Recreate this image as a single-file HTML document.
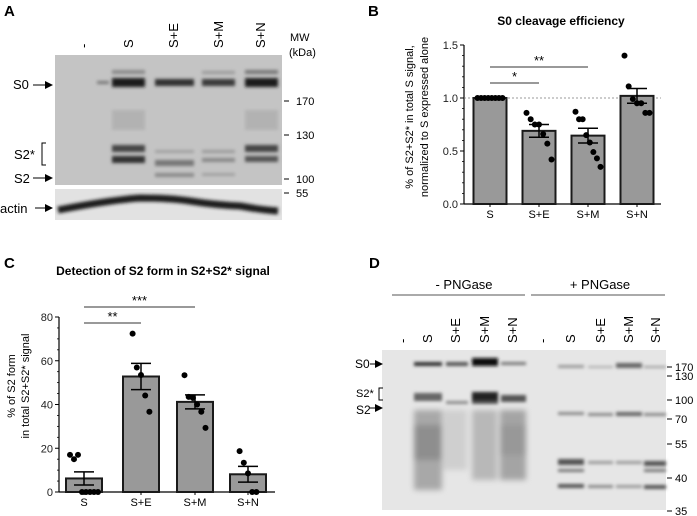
<!DOCTYPE html>
<html><head><meta charset="utf-8"><style>
body{margin:0;background:#fff;}
svg{display:block;font-family:"Liberation Sans",Arial,sans-serif;}
.cal{font-family:"Liberation Sans",Arial,sans-serif;}
</style></head><body>
<svg id="fig" width="697" height="516" viewBox="0 0 697 516">
<defs>
<marker id="ar" markerWidth="8" markerHeight="8" refX="7" refY="4" orient="auto"><path d="M0,0 L8,4 L0,8 z" fill="#000"/></marker>
<filter id="bl" x="-20%" y="-50%" width="140%" height="200%"><feGaussianBlur stdDeviation="1.5"/></filter>
<filter id="bl3" x="-20%" y="-50%" width="140%" height="200%"><feGaussianBlur stdDeviation="3"/></filter>
</defs>

<!-- Panel A -->
<g>
<text x="4" y="16" font-size="15" font-weight="bold">A</text>
<rect x="55" y="55" width="227" height="130" fill="#c4c4c4"/>
<g filter="url(#bl)">
<rect x="112" y="78" width="33" height="9" fill="#1a1a1a"/><rect x="112" y="70" width="33" height="4" fill="#8a8a8a"/>
<rect x="155" y="79" width="39" height="7" fill="#333"/>
<rect x="202" y="79" width="33" height="7" fill="#3a3a3a"/><rect x="202" y="71" width="33" height="3" fill="#9a9a9a"/>
<rect x="245" y="78" width="33" height="9" fill="#1a1a1a"/><rect x="245" y="70" width="33" height="4" fill="#777"/>
<rect x="97" y="81" width="12" height="3" fill="#777"/>
<rect x="112" y="145" width="33" height="7" fill="#444"/><rect x="112" y="156" width="33" height="7" fill="#333"/>
<rect x="245" y="145" width="33" height="7" fill="#444"/><rect x="245" y="156" width="33" height="6" fill="#555"/>
<rect x="155" y="160" width="39" height="6" fill="#777"/><rect x="155" y="173" width="39" height="4" fill="#8a8a8a"/><rect x="155" y="150" width="39" height="3" fill="#a0a0a0"/>
<rect x="202" y="150" width="33" height="3" fill="#999"/><rect x="202" y="158" width="33" height="4" fill="#888"/><rect x="202" y="173" width="33" height="3" fill="#a0a0a0"/>
<rect x="112" y="110" width="33" height="20" fill="#b2b2b2"/><rect x="245" y="110" width="33" height="20" fill="#b2b2b2"/>
</g>
<rect x="55" y="189" width="227" height="31" fill="#e2e2e2"/>
<path d="M58,210 Q110,200 140,198 Q170,198 190,201 Q215,205 240,206 Q262,210 278,211" stroke="#1a1a1a" stroke-width="7" fill="none" filter="url(#bl)"/>
<g font-size="13" class="cal">
<text x="13" y="89">S0</text>
<line x1="33" y1="85" x2="52" y2="85" stroke="#000" marker-end="url(#ar)"/>
<text x="14" y="159">S2*</text>
<path d="M46,143 L42,143 L42,165 L46,165" fill="none" stroke="#000"/>
<text x="14" y="183">S2</text>
<line x1="33" y1="178" x2="52" y2="178" stroke="#000" marker-end="url(#ar)"/>
<text x="0" y="213">actin</text>
<line x1="35" y1="208" x2="52" y2="208" stroke="#000" marker-end="url(#ar)"/>
<text x="290" y="41" font-size="11">MW</text>
<text x="289" y="56" font-size="11">(kDa)</text>
<g font-size="11">
<line x1="284" y1="101" x2="289" y2="101" stroke="#000"/><text x="296" y="105">170</text>
<line x1="284" y1="135" x2="289" y2="135" stroke="#000"/><text x="296" y="139">130</text>
<line x1="284" y1="179" x2="289" y2="179" stroke="#000"/><text x="296" y="183">100</text>
<line x1="284" y1="193" x2="289" y2="193" stroke="#000"/><text x="296" y="197">55</text>
</g>
<text transform="translate(88,48) rotate(-90)">-</text>
<text transform="translate(133,48) rotate(-90)">S</text>
<text transform="translate(178,48) rotate(-90)">S+E</text>
<text transform="translate(223,48) rotate(-90)">S+M</text>
<text transform="translate(265,48) rotate(-90)">S+N</text>
</g>
</g>

<!-- Panel D -->
<g>
<text x="369" y="268" font-size="15" font-weight="bold">D</text>
<rect x="382" y="350" width="284" height="160" fill="#e6e6e6"/>
<g filter="url(#bl3)">
<rect x="414" y="410" width="28" height="80" fill="#a8a8a8"/><rect x="414" y="425" width="28" height="35" fill="#8e8e8e"/>
<rect x="472" y="410" width="25" height="70" fill="#b8b8b8"/>
<rect x="500" y="410" width="26" height="70" fill="#a4a4a4"/><rect x="500" y="425" width="26" height="30" fill="#989898"/>
<rect x="443" y="410" width="24" height="60" fill="#cfcfcf"/>
</g>
<g filter="url(#bl)">
<rect x="414" y="362" width="28" height="4" fill="#333"/><rect x="414" y="393" width="28" height="8" fill="#666"/>
<rect x="446" y="362" width="22" height="4" fill="#555"/><rect x="446" y="401" width="22" height="3" fill="#888"/>
<rect x="472" y="358" width="26" height="8" fill="#111"/><rect x="472" y="392" width="26" height="9" fill="#222"/><rect x="472" y="401" width="26" height="3" fill="#555"/>
<rect x="501" y="362" width="25" height="3" fill="#777"/><rect x="501" y="395" width="25" height="7" fill="#555"/>
<rect x="558" y="365" width="26" height="3" fill="#999"/><rect x="558" y="412" width="26" height="3" fill="#888"/>
<rect x="558" y="459" width="26" height="6" fill="#555"/><rect x="558" y="469" width="26" height="3" fill="#777"/><rect x="558" y="484" width="26" height="4" fill="#555"/>
<rect x="588" y="366" width="25" height="2" fill="#aaa"/><rect x="588" y="413" width="25" height="3" fill="#888"/><rect x="588" y="461" width="25" height="3" fill="#999"/><rect x="588" y="485" width="25" height="3" fill="#888"/>
<rect x="616" y="363" width="26" height="5" fill="#666"/><rect x="616" y="412" width="26" height="4" fill="#666"/><rect x="616" y="461" width="26" height="3" fill="#999"/><rect x="616" y="485" width="26" height="3" fill="#999"/>
<rect x="644" y="366" width="22" height="2" fill="#999"/><rect x="644" y="413" width="22" height="3" fill="#888"/><rect x="644" y="461" width="22" height="5" fill="#555"/><rect x="644" y="469" width="22" height="3" fill="#777"/><rect x="644" y="485" width="22" height="4" fill="#555"/>
</g>
<g font-size="13" class="cal">
<text x="464" y="289" text-anchor="middle">- PNGase</text>
<line x1="392" y1="295" x2="525" y2="295" stroke="#555"/>
<text x="600" y="289" text-anchor="middle">+ PNGase</text>
<line x1="531" y1="295" x2="665" y2="295" stroke="#555"/>
<g>
<text transform="translate(407,343) rotate(-90)">-</text>
<text transform="translate(432,343) rotate(-90)">S</text>
<text transform="translate(460,343) rotate(-90)">S+E</text>
<text transform="translate(489,343) rotate(-90)">S+M</text>
<text transform="translate(517,343) rotate(-90)">S+N</text>
<text transform="translate(547,343) rotate(-90)">-</text>
<text transform="translate(575,343) rotate(-90)">S</text>
<text transform="translate(605,343) rotate(-90)">S+E</text>
<text transform="translate(633,343) rotate(-90)">S+M</text>
<text transform="translate(660,343) rotate(-90)">S+N</text>
</g>
<text x="355" y="368" font-size="12">S0</text>
<line x1="370" y1="364" x2="382" y2="364" stroke="#000" marker-end="url(#ar)"/>
<text x="356" y="397" font-size="11">S2*</text>
<path d="M383,388 L379,388 L379,400 L383,400" fill="none" stroke="#000"/>
<text x="356" y="414" font-size="12">S2</text>
<line x1="370" y1="408" x2="382" y2="408" stroke="#000" marker-end="url(#ar)"/>
<g font-size="11">
<line x1="667" y1="367" x2="672" y2="367" stroke="#000"/><text x="675" y="371">170</text>
<line x1="667" y1="376" x2="672" y2="376" stroke="#000"/><text x="675" y="380">130</text>
<line x1="667" y1="400" x2="672" y2="400" stroke="#000"/><text x="675" y="404">100</text>
<line x1="667" y1="419" x2="672" y2="419" stroke="#000"/><text x="675" y="423">70</text>
<line x1="667" y1="444" x2="672" y2="444" stroke="#000"/><text x="675" y="448">55</text>
<line x1="667" y1="478" x2="672" y2="478" stroke="#000"/><text x="675" y="482">40</text>
<line x1="667" y1="511" x2="672" y2="511" stroke="#000"/><text x="675" y="515">35</text>
</g>
</g>
</g>

<!-- Panel B & C -->
<text x="368" y="16" font-size="15" font-weight="bold">B</text>
<text x="561" y="25" font-size="12" font-weight="bold" text-anchor="middle">S0 cleavage efficiency</text>
<text transform="translate(413,117) rotate(-90)" font-size="11" text-anchor="middle">% of S2+S2* in total S signal,</text>
<text transform="translate(428,117) rotate(-90)" font-size="11" text-anchor="middle">normalized to S expressed alone</text>
<g id="chartB"></g>

<text x="4" y="268" font-size="15" font-weight="bold">C</text>
<text x="163" y="275" font-size="12" font-weight="bold" text-anchor="middle">Detection of S2 form in S2+S2* signal</text>
<text transform="translate(15,386) rotate(-90)" font-size="11" text-anchor="middle">% of S2 form</text>
<text transform="translate(29,386) rotate(-90)" font-size="11" text-anchor="middle">in total S2+S2* signal</text>
<g id="chartC"></g>
</svg>
<script>
const categories = ["S", "S+E", "S+M", "S+N"];
const bPoints = [[1,1,1,1,1,1,1,1],[0.86,0.80,0.75,0.75,0.66,0.57,0.42],[0.87,0.80,0.80,0.65,0.58,0.49,0.43,0.35],[1.40,1.11,0.99,0.95,0.95,0.86,0.86]];
const bMeans = [1.0, 0.69, 0.645, 1.02];
const bSem = [0.0, 0.06, 0.07, 0.07];
const bTicks = [0, 0.5, 1.0, 1.5];
const cPoints = [[17,15,17,0,0,0,0,0],[72.4,56.9,53.5,44.1,36.7],[53.4,43.5,43,40,36.7,29.3],[18.7,13.4,8.5,0,0]];
const cMeans = [6.2, 52.8, 41.2, 8.1];
const cSem = [3.0, 6.0, 3.2, 3.6];
const cTicks = [0, 20, 40, 60, 80];

const NS = "http://www.w3.org/2000/svg";
function mk(parent, tag, attrs){const e=document.createElementNS(NS,tag);for(const k in attrs)e.setAttribute(k,attrs[k]);parent.appendChild(e);return e;}

function drawChart(g, o){
  const y = v => o.y0 - (v - o.min)/(o.max - o.min)*(o.y0 - o.y1);
  const bx = i => o.bars[i];
  const fmt = o.fmt;
  mk(g,"line",{x1:o.ax,y1:o.y1,x2:o.ax,y2:o.y0,stroke:"#000","stroke-width":1.2});
  mk(g,"line",{x1:o.ax,y1:o.y0,x2:o.axEnd,y2:o.y0,stroke:"#000","stroke-width":1.2});
  o.ticks.forEach((t,k)=>{
    mk(g,"line",{x1:o.ax-4,y1:y(t),x2:o.ax,y2:y(t),stroke:"#000"});
    const tx=mk(g,"text",{x:o.ax-6,y:y(t)+4,"font-size":11,"text-anchor":"end",fill:"#222"});
    tx.textContent=fmt(t);
    
    
    if(k<o.ticks.length-1){for(let m=1;m<o.minor;m++){const v=t+(o.ticks[k+1]-t)*m/o.minor;mk(g,"line",{x1:o.ax-2,y1:y(v),x2:o.ax,y2:y(v),stroke:"#000","stroke-width":0.8});}}
  });
  if(o.ref!==undefined) mk(g,"line",{x1:o.ax,y1:y(o.ref),x2:o.axEnd,y2:y(o.ref),stroke:"#777","stroke-dasharray":"2,2","stroke-width":0.8});
  categories.forEach((c,i)=>{
    const x=bx(i), w=o.bw;
    const r=mk(g,"rect",{x:x-w/2,y:y(o.means[i]),width:w,height:y(o.min)-y(o.means[i]),fill:"#999",stroke:"#1a1a1a","stroke-width":2});
    
    
    const lb=mk(g,"text",{x:x,y:o.y0+14,"font-size":11,"text-anchor":"middle"});
    lb.textContent=c;
    
    
    mk(g,"line",{x1:x,y1:o.y0,x2:x,y2:o.y0+3,stroke:"#000"});
    const pts=o.pts[i], n=pts.length;
    pts.forEach((v,j)=>{
      const off = n>1 ? (j - (n-1)/2) * Math.min(4.2, (w-8)/(n-1)) : 0;
      const d=mk(g,"circle",{cx:x+off,cy:y(v),r:3,fill:"#000"});
      
      
    });
    const m=o.means[i], s=o.sem[i];
    if(s>0){
      mk(g,"line",{x1:x,y1:y(m+s),x2:x,y2:y(m-s),stroke:"#000","stroke-width":1.5});
      mk(g,"line",{x1:x-10,y1:y(m+s),x2:x+10,y2:y(m+s),stroke:"#000","stroke-width":1.5});
      mk(g,"line",{x1:x-10,y1:y(m-s),x2:x+10,y2:y(m-s),stroke:"#000","stroke-width":1.5});
    }
  });
  o.sig.forEach(s=>{
    mk(g,"line",{x1:bx(s[0]),y1:s[2],x2:bx(s[1]),y2:s[2],stroke:"#333"});
    const t=mk(g,"text",{x:(bx(s[0])+bx(s[1]))/2,y:s[2]-2,"font-size":13,"text-anchor":"middle"});
    t.textContent=s[3];
    
    
  });
}
drawChart(document.getElementById("chartB"),{min:0,max:1.5,y0:204,y1:45,ax:464,axEnd:661,bars:[490,539,588,637],bw:33,ticks:bTicks,minor:5,means:bMeans,sem:bSem,pts:bPoints,ref:1.0,fmt:v=>v.toFixed(1),sig:[[0,1,83,"*"],[0,2,67,"**"]]});
drawChart(document.getElementById("chartC"),{min:0,max:80,y0:492,y1:317,ax:59,axEnd:275,bars:[84,141,195,248],bw:36,ticks:cTicks,minor:4,means:cMeans,sem:cSem,pts:cPoints,fmt:v=>String(v),sig:[[0,1,323,"**"],[0,2,307,"***"]]});
</script>
</body></html>
